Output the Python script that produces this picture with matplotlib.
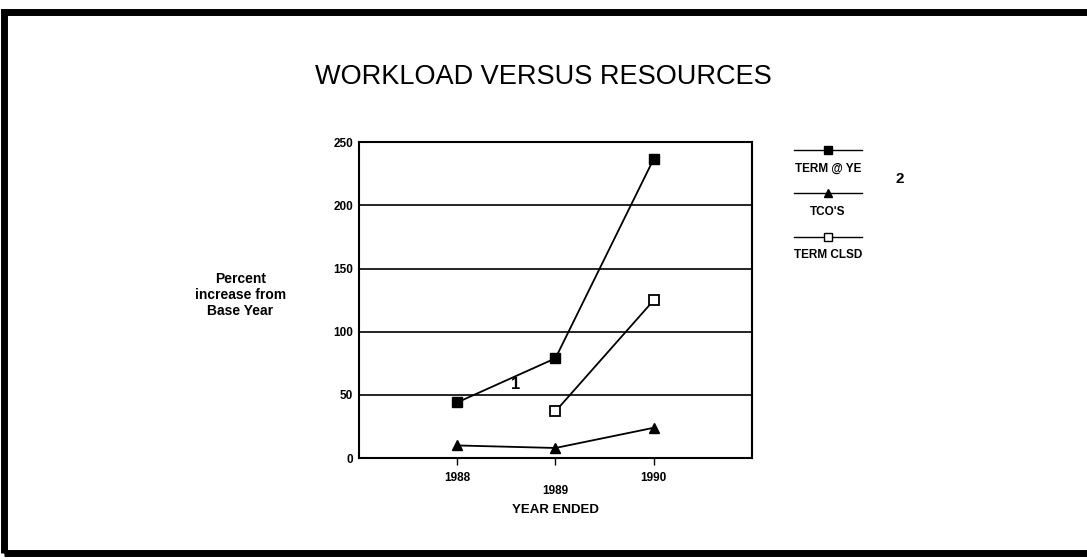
import matplotlib.pyplot as plt
from matplotlib.lines import Line2D
from matplotlib.patches import Rectangle

plt.rcParams['font.family'] = ['Liberation Sans', 'DejaVu Sans']

# Data
years = [1988, 1989, 1990]
term_ye = [44, 79, 237]
tcos = [10, 8, 24]
clsd_years = [1989, 1990]
term_clsd = [37, 125]
legend_labels = ["TERM @ YE", "TCO'S", "TERM CLSD"]
y_ticks = [0, 50, 100, 150, 200, 250]

fig = plt.figure(figsize=(10.87, 5.6), dpi=100)

# scanned page frame
fig.patches.append(Rectangle((0.004, 0.012), 1.2, 0.966, transform=fig.transFigure,
                             fill=False, edgecolor='black', linewidth=5))

ax = fig.add_axes([0.330, 0.182, 0.362, 0.564])
ax.plot(years, term_ye, color='black', linewidth=1.3, marker='s', markersize=7)
ax.plot(years, tcos, color='black', linewidth=1.3, marker='^', markersize=7)
ax.plot(clsd_years, term_clsd, color='black', linewidth=1.3, marker='s', markersize=7,
        markerfacecolor='white', markeredgewidth=1.3)

ax.set_xlim(1987, 1991)
ax.set_ylim(0, 250)
ax.set_yticks(y_ticks)
ax.set_yticklabels([str(v) for v in y_ticks], fontsize=8.5, fontweight='bold')
ax.set_xticks(years)
ax.set_xticklabels([])
ax.tick_params(axis='y', length=0, pad=4)
ax.tick_params(axis='x', direction='out', length=5, width=1)
for yr, dy in zip(years, [-0.045, -0.085, -0.045]):
    ax.text(yr, dy, str(yr), transform=ax.get_xaxis_transform(), ha='center', va='top',
            fontsize=8.5, fontweight='bold')
ax.text(1989, -0.145, 'YEAR ENDED', transform=ax.get_xaxis_transform(), ha='center', va='top',
        fontsize=9.5, fontweight='bold')
ax.grid(axis='y', color='black', linewidth=1.2)
for s in ax.spines.values():
    s.set_linewidth(1.5)

ax.text(1988.6, 52, '1', fontsize=12, fontweight='bold', ha='center', va='bottom')

fig.text(0.5, 0.862, 'WORKLOAD VERSUS RESOURCES', ha='center', va='center', fontsize=19.5)
fig.text(0.221, 0.432, 'Percent\nincrease from\nBase Year', ha='center', va='bottom',
         fontsize=10, fontweight='bold', linespacing=1.2)

# legend: line with marker above each label
entries = [('s', 'black'), ('^', 'black'), ('s', 'white')]
line_y = [0.732, 0.655, 0.577]
for (mk, fc), ly, lab in zip(entries, line_y, legend_labels):
    fig.add_artist(Line2D([0.730, 0.793], [ly, ly], transform=fig.transFigure, color='black',
                          linewidth=1))
    fig.add_artist(Line2D([0.7615], [ly], transform=fig.transFigure, color='black',
                          marker=mk, markersize=6, markerfacecolor=fc, markeredgewidth=1))
    fig.text(0.7615, ly - 0.033, lab, ha='center', va='center', fontsize=8.5, fontweight='bold')
fig.text(0.828, 0.68, '2', ha='center', va='center', fontsize=11, fontweight='bold')

fig.savefig('out.png', dpi=100)
